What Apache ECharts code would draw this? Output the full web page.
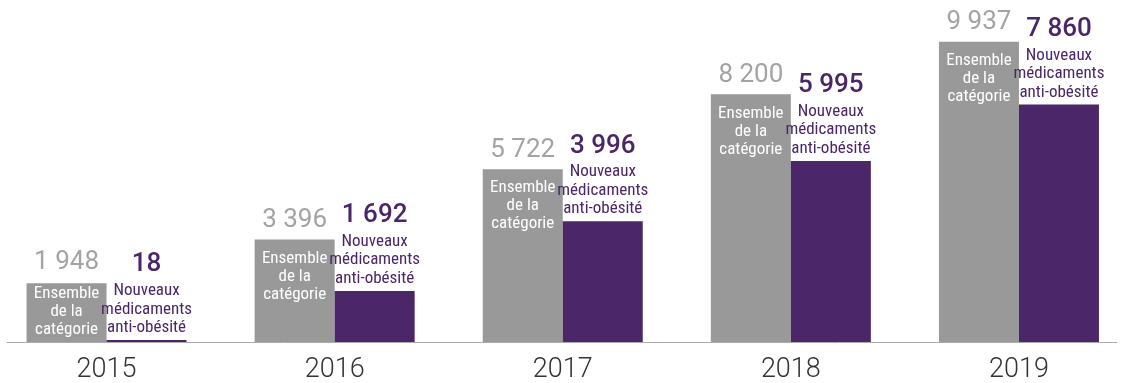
<!DOCTYPE html>
<html>
<head>
<meta charset="utf-8">
<script src="https://cdn.jsdelivr.net/npm/echarts@6/dist/echarts.min.js"></script>
<style>
  html, body { margin: 0; padding: 0; background: #fff; }
  #chart { width: 1124px; height: 383px; }
</style>
</head>
<body>
<div id="chart"></div>
<script>
// Years on the category axis
const years = ['2015', '2016', '2017', '2018', '2019'];
// Whole anti-obesity category
const ensemble = [1948, 3396, 5722, 8200, 9937];
// New anti-obesity drugs
const nouveaux = [18, 1692, 3996, 5995, 7860];
// Caption lines written on / above the bars
const ensembleLines = ['Ensemble', 'de la', 'catégorie'];
const nouveauxLines = ['Nouveaux', 'médicaments', 'anti-obésité'];

const GREY = '#999999';
const PURPLE = '#4b276a';
const PURPLE_TEXT = '#4a2568';

// Pick an installed narrow face for the small captions
function hasFont(name) {
  const ctx = document.createElement('canvas').getContext('2d');
  const probe = 'médicaments Ensemble 0123';
  ctx.font = '40px monospace';
  const base = ctx.measureText(probe).width;
  ctx.font = '40px "' + name + '", monospace';
  return ctx.measureText(probe).width !== base;
}
let capFont = { family: 'Liberation Sans', size: 15 };
if (hasFont('Liberation Sans Narrow')) capFont = { family: 'Liberation Sans Narrow', size: 18 };
else if (hasFont('Roboto Condensed')) capFont = { family: 'Roboto Condensed', size: 17 };
else if (hasFont('DejaVu Sans Condensed')) capFont = { family: 'DejaVu Sans Condensed', size: 15 };

const fmt = v => String(v).replace(/\B(?=(\d{3})+(?!\d))/g, ' ');

const chart = echarts.init(document.getElementById('chart'), null, { renderer: 'canvas' });

const greyData = ensemble.map(v => v < 2500
  ? { value: v, label: { offset: [0, -44] }, short: true }
  : { value: v });

chart.setOption({
  animation: false,
  backgroundColor: '#ffffff',
  grid: [
    { left: -7.5, right: -9, top: 0, bottom: 41, outerBoundsMode: 'none', containLabel: false },
    { left: 7, right: 7, top: 0, bottom: 41, outerBoundsMode: 'none', containLabel: false }
  ],
  xAxis: [
    {
      type: 'category',
      gridIndex: 0,
      data: years,
      axisLine: { show: false },
      axisTick: { show: false },
      axisLabel: {
        margin: 15,
        fontSize: 27,
        fontFamily: 'Roboto',
        fontWeight: 300,
        color: '#333333'
      }
    },
    {
      type: 'value',
      gridIndex: 1,
      min: 0,
      max: 1,
      axisLine: { show: true, lineStyle: { color: '#aaaaaa', width: 1 } },
      axisTick: { show: false },
      axisLabel: { show: false },
      splitLine: { show: false }
    }
  ],
  yAxis: [
    { type: 'value', gridIndex: 0, min: 0, max: 11320, show: false, splitLine: { show: false } },
    { type: 'value', gridIndex: 1, show: false, splitLine: { show: false } }
  ],
  series: [
    {
      name: 'Ensemble de la catégorie',
      type: 'bar',
      xAxisIndex: 0,
      yAxisIndex: 0,
      barWidth: 80,
      barGap: '0%',
      itemStyle: { color: GREY },
      data: greyData,
      label: {
        show: true,
        position: 'insideTop',
        distance: 0,
        offset: [0, -48],
        align: 'center',
        formatter: p => {
          const head = p.data.short ? '{vs|' + fmt(p.value) + '}' : '{v|' + fmt(p.value) + '}';
          return [head].concat(ensembleLines.map(s => '{t|' + s + '}')).join('\n');
        },
        rich: {
          v: { fontFamily: 'Roboto', fontSize: 26, fontWeight: 400, color: '#a3a3a3', lineHeight: 58, align: 'center' },
          vs: { fontFamily: 'Roboto', fontSize: 26, fontWeight: 400, color: '#a3a3a3', lineHeight: 46, align: 'center' },
          t: { fontFamily: capFont.family, fontSize: capFont.size, color: '#ffffff', lineHeight: 18, align: 'center' }
        }
      }
    },
    {
      name: 'Nouveaux médicaments anti-obésité',
      type: 'bar',
      xAxisIndex: 0,
      yAxisIndex: 0,
      barWidth: 80,
      barGap: '0%',
      barMinHeight: 2,
      itemStyle: { color: PURPLE },
      data: nouveaux,
      label: {
        show: true,
        position: 'top',
        distance: 3,
        align: 'center',
        formatter: p => ['{v|' + fmt(p.value) + '}']
          .concat(nouveauxLines.map(s => '{t|' + s + '}')).join('\n'),
        rich: {
          v: { fontFamily: 'Roboto', fontSize: 26, fontWeight: 500, color: PURPLE_TEXT, lineHeight: 33.5, align: 'center' },
          t: { fontFamily: capFont.family, fontSize: capFont.size, color: PURPLE_TEXT, lineHeight: 18.5, align: 'center' }
        }
      }
    }
  ]
});
</script>
</body>
</html>
